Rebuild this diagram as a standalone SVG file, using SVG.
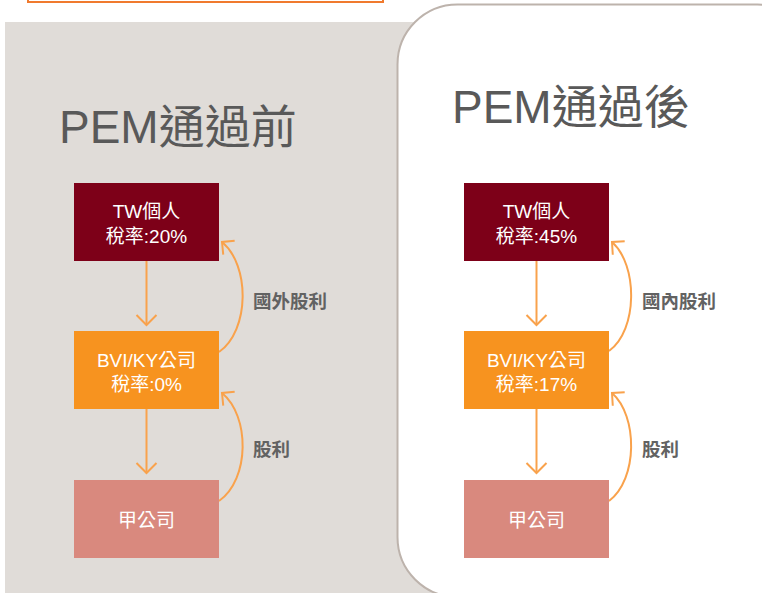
<svg xmlns="http://www.w3.org/2000/svg" width="762" height="593" viewBox="0 0 762 593">
  <defs>
    <style>
      .title { font-family: "Liberation Sans", "Noto Sans CJK TC", sans-serif; font-size: 46px; fill: #595959; }
      .box-text { font-family: "Liberation Sans", "Noto Sans CJK TC", sans-serif; font-size: 19px; fill: #ffffff; text-anchor: middle; }
      .label { font-family: "Noto Sans CJK TC", sans-serif; font-size: 18.5px; fill: #626262; font-weight: 600; }
      .conn { fill: none; stroke: #F9A24C; stroke-width: 2; }
      .dark { fill: #7D0018; }
      .orange { fill: #F7931F; }
      .salmon { fill: #D9897E; }
    </style>
    <marker id="arrowDown" markerUnits="userSpaceOnUse" viewBox="-12 -12 14 24" markerWidth="14" markerHeight="24" refX="0" refY="0" orient="auto" overflow="visible">
      <path d="M-10,-10 L0,0 L-10,10" fill="none" stroke="#F9A24C" stroke-width="2"/>
    </marker>
    <marker id="arrowCurve" markerUnits="userSpaceOnUse" viewBox="-12 -12 14 24" markerWidth="14" markerHeight="24" refX="0" refY="0" orient="auto" overflow="visible">
      <path d="M-9,-9 L0,0 L-9,9" fill="none" stroke="#F9A24C" stroke-width="2"/>
    </marker>
  </defs>

  <rect x="0" y="0" width="762" height="593" fill="#ffffff"/>

  <!-- top orange outlined box -->
  <rect x="28" y="-10" width="355" height="12" fill="#ffffff" stroke="#F07A2E" stroke-width="2"/>

  <!-- background panels -->
  <rect x="5" y="22" width="430" height="580" fill="#E0DCD8"/>
  <rect x="397.5" y="4.5" width="420" height="592.5" rx="60" ry="60" fill="#ffffff" stroke="#BDB3AC" stroke-width="2"/>

  <!-- titles -->
  <text class="title" x="59" y="143">PEM通過前</text>
  <text class="title" x="452" y="123">PEM通過後</text>

  <!-- connectors -->
  <g id="connectors">
    <line class="conn" x1="146.5" y1="261" x2="146.5" y2="325" marker-end="url(#arrowDown)"/>
    <line class="conn" x1="146.5" y1="409" x2="146.5" y2="473" marker-end="url(#arrowDown)"/>
    <path class="conn" d="M219,352 C250,330 250,265 222,242" marker-end="url(#arrowCurve)"/>
    <path class="conn" d="M219,501 C250,479 250,416 222,393" marker-end="url(#arrowCurve)"/>

    <line class="conn" x1="536.5" y1="261" x2="536.5" y2="325" marker-end="url(#arrowDown)"/>
    <line class="conn" x1="536.5" y1="409" x2="536.5" y2="473" marker-end="url(#arrowDown)"/>
    <path class="conn" d="M609,351 C638,330 638,265 612,242" marker-end="url(#arrowCurve)"/>
    <path class="conn" d="M609,501 C638,479 638,416 612,393" marker-end="url(#arrowCurve)"/>
  </g>

  <!-- connector labels -->
  <text class="label" x="253" y="308">國外股利</text>
  <text class="label" x="253" y="456">股利</text>
  <text class="label" x="642" y="308">國內股利</text>
  <text class="label" x="642" y="456">股利</text>

  <!-- left nodes -->
  <g id="tw-before">
    <rect class="dark" x="74" y="183" width="145" height="78"/>
    <text class="box-text" x="146.5" y="218">TW個人</text>
    <text class="box-text" x="146.5" y="243">稅率:20%</text>
  </g>
  <g id="bvi-before">
    <rect class="orange" x="74" y="331" width="145" height="78"/>
    <text class="box-text" x="146.5" y="367">BVI/KY公司</text>
    <text class="box-text" x="146.5" y="391">稅率:0%</text>
  </g>
  <g id="jia-before">
    <rect class="salmon" x="74" y="480" width="145" height="78"/>
    <text class="box-text" x="146.5" y="527">甲公司</text>
  </g>

  <!-- right nodes -->
  <g id="tw-after">
    <rect class="dark" x="464" y="183" width="145" height="78"/>
    <text class="box-text" x="536.5" y="218">TW個人</text>
    <text class="box-text" x="536.5" y="243">稅率:45%</text>
  </g>
  <g id="bvi-after">
    <rect class="orange" x="464" y="331" width="145" height="78"/>
    <text class="box-text" x="536.5" y="367">BVI/KY公司</text>
    <text class="box-text" x="536.5" y="391">稅率:17%</text>
  </g>
  <g id="jia-after">
    <rect class="salmon" x="464" y="480" width="145" height="78"/>
    <text class="box-text" x="536.5" y="527">甲公司</text>
  </g>
</svg>
